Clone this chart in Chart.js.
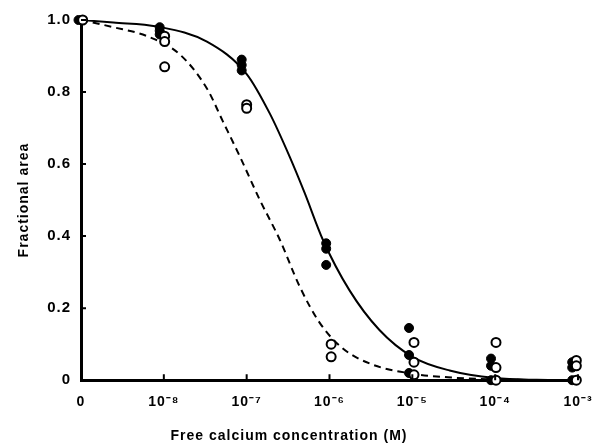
<!DOCTYPE html>
<html>
<head>
<meta charset="utf-8">
<script src="https://cdn.jsdelivr.net/npm/chart.js@4.4.1/dist/chart.umd.min.js"></script>
<style>
    html, body { margin: 0; padding: 0; background: #fff; }
    #wrap { width: 594px; height: 445px; }
</style>
</head>
<body>
<div id="wrap"><canvas id="calciumChart"></canvas></div>
<script>
/* ======= Data (x = log10 of free Ca, -9 is the "0" column) ======= */
const tickValues = [-9, -8, -7, -6, -5, -4, -3];
const tickLabels = ['0', '10⁻⁸', '10⁻⁷', '10⁻⁶', '10⁻⁵', '10⁻⁴', '10⁻³'];

// filled circles
const filledX = [-9.03, -8.05, -8.05, -8.05, -7.06, -7.06, -7.06, -6.04, -6.04, -6.04,
    -5.04, -5.04, -5.04, -4.05, -4.05, -4.05, -3.07, -3.07, -3.07];
const filledY = [1.0, 0.98, 0.97, 0.96, 0.89, 0.875, 0.86, 0.38, 0.365, 0.32,
    0.145, 0.07, 0.02, 0.06, 0.04, 0.0, 0.05, 0.035, 0.0];

// open circles
const openX = [-8.98, -7.99, -7.99, -7.99, -7.0, -7.0, -5.98, -5.98,
    -4.98, -4.98, -4.98, -3.99, -3.99, -3.99, -3.02, -3.02, -3.02];
const openY = [1.0, 0.955, 0.94, 0.87, 0.765, 0.755, 0.10, 0.065,
    0.105, 0.05, 0.015, 0.105, 0.035, 0.0, 0.055, 0.04, 0.0];

// fitted curves
const solidX = [-9, -8.61, -8.08, -7.48, -7.0, -6.72, -6.48, -6.3, -6.08, -5.76, -5.4, -5.0, -4.55, -4.0, -3.5, -3];
const solidY = [1.0, 0.993, 0.982, 0.94, 0.85, 0.74, 0.62, 0.52, 0.39, 0.25, 0.14, 0.065, 0.027, 0.006, 0.001, 0.0];

const dashedX = [-9, -8.61, -8.2, -7.81, -7.48, -7.29, -7.08, -6.84, -6.6, -6.36, -6.12, -5.85, -5.5, -5.0, -4.5, -4.0, -3];
const dashedY = [1.0, 0.98, 0.955, 0.905, 0.81, 0.72, 0.62, 0.5, 0.39, 0.26, 0.16, 0.09, 0.045, 0.018, 0.007, 0.002, 0.0];

const yTicks = [0, 0.2, 0.4, 0.6, 0.8, 1.0];

function pairs(xs, ys) {
    return xs.map((x, i) => ({ x: x, y: ys[i] }));
}

/* ======= inward tick marks ======= */
const innerTicks = {
    id: 'innerTicks',
    afterDraw(chart) {
        const ctx = chart.ctx;
        const xs = chart.scales.x;
        const ys = chart.scales.y;
        const area = chart.chartArea;
        ctx.save();
        ctx.strokeStyle = '#000';
        ctx.lineWidth = 2;
        ctx.beginPath();
        yTicks.forEach(function (v) {
            if (v === 0) return;
            const py = ys.getPixelForValue(v);
            ctx.moveTo(area.left, py);
            ctx.lineTo(area.left + 5, py);
        });
        tickValues.forEach(function (v) {
            if (v === -9) return;
            const px = xs.getPixelForValue(v);
            ctx.moveTo(px, area.bottom);
            ctx.lineTo(px, area.bottom - 6);
        });
        ctx.stroke();
        ctx.restore();
    }
};

const textSpacing = {
    id: 'textSpacing',
    beforeDraw(chart) {
        chart.ctx.letterSpacing = '1px';
    }
};

const fontFamily = 'Liberation Sans, Arial, sans-serif';

const ctx = document.getElementById('calciumChart');
new Chart(ctx, {
    type: 'scatter',
    data: {
        datasets: [
            {
                label: 'fit open',
                data: pairs(dashedX, dashedY),
                showLine: true,
                borderColor: '#000',
                borderWidth: 2,
                borderDash: [7, 5],
                pointRadius: 0,
                cubicInterpolationMode: 'monotone',
                order: 4,
            },
            {
                label: 'fit filled',
                data: pairs(solidX, solidY),
                showLine: true,
                borderColor: '#000',
                borderWidth: 2,
                pointRadius: 0,
                cubicInterpolationMode: 'monotone',
                order: 3,
            },
            {
                label: 'filled',
                data: pairs(filledX, filledY),
                pointRadius: 4.5,
                pointBackgroundColor: '#000',
                pointBorderColor: '#000',
                pointBorderWidth: 1,
                clip: false,
                order: 2,
            },
            {
                label: 'open',
                data: pairs(openX, openY),
                pointRadius: 4.5,
                pointBackgroundColor: '#fff',
                pointBorderColor: '#000',
                pointBorderWidth: 2,
                clip: false,
                order: 1,
            },
        ],
    },
    options: {
        responsive: true,
        maintainAspectRatio: false,
        animation: false,
        events: [],
        layout: {
            padding: { left: 0, right: 16, top: 20, bottom: 0 },
        },
        plugins: {
            legend: { display: false },
            tooltip: { enabled: false },
            title: {
                display: true,
                position: 'bottom',
                text: 'Free calcium concentration (M)',
                color: '#000',
                padding: { top: 0, bottom: 0 },
                font: { family: fontFamily, size: 14, weight: 'bold' },
            },
        },
        scales: {
            x: {
                type: 'linear',
                min: -9,
                max: -3,
                afterFit(scale) {
                    scale.height = 48;
                    scale.paddingRight = 0;
                    scale.paddingLeft = 0;
                },
                afterBuildTicks(scale) {
                    scale.ticks = tickValues.map(v => ({ value: v }));
                },
                grid: { display: false, drawTicks: false },
                border: { display: true, color: '#000', width: 3 },
                ticks: {
                    color: '#000',
                    padding: 14,
                    maxRotation: 0,
                    font: { family: fontFamily, size: 14, weight: 'bold' },
                    callback(value) {
                        const i = tickValues.indexOf(value);
                        return i >= 0 ? tickLabels[i] : '';
                    },
                },
            },
            y: {
                min: 0,
                max: 1,
                afterFit(scale) { scale.width = 81; },
                afterBuildTicks(scale) {
                    scale.ticks = yTicks.map(v => ({ value: v }));
                },
                grid: { display: false, drawTicks: false },
                border: { display: true, color: '#000', width: 3 },
                ticks: {
                    color: '#000',
                    padding: 10,
                    font: { family: fontFamily, size: 15, weight: 'bold' },
                    callback(value) {
                        return value === 0 ? '0' : value.toFixed(1);
                    },
                },
                title: {
                    display: true,
                    text: 'Fractional area',
                    color: '#000',
                    padding: { top: 16, bottom: 0 },
                    font: { family: fontFamily, size: 14, weight: 'bold' },
                },
            },
        },
    },
    plugins: [textSpacing, innerTicks],
});
</script>
</body>
</html>
